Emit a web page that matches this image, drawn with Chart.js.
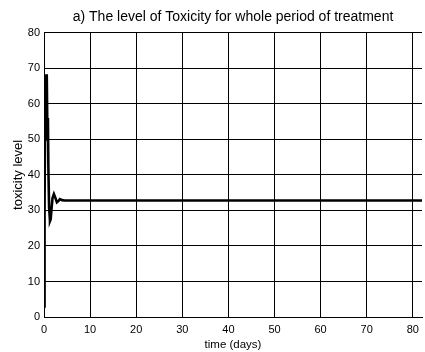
<!DOCTYPE html>
<html><head><meta charset="utf-8">
<script src="https://cdn.jsdelivr.net/npm/chart.js@4"></script>
<style>html,body{margin:0;padding:0;background:#fff}#w{width:425px;height:352px}</style>
</head><body><div id="w"><canvas id="c"></canvas></div>
<script>
const timeDays = [0, 0.12, 0.25, 0.35, 0.6, 0.75, 0.85, 0.95, 1.1, 1.3, 1.45, 1.6, 1.85, 2.15, 2.45, 2.8, 3.1, 3.45, 3.9, 4.5, 82];
const toxicity = [3, 30, 60, 68, 68, 50, 56, 42, 31, 27, 27.5, 30, 33.5, 34.6, 33.6, 32.3, 32.6, 33.2, 32.9, 32.8, 32.8];
const xTicks = [0, 10, 20, 30, 40, 50, 60, 70, 80];
const yTicks = [0, 10, 20, 30, 40, 50, 60, 70, 80];
const titleText = 'a) The level of Toxicity for whole period of treatment';
const xTitle = 'time (days)';
const yTitle = 'toxicity level';

const font = 'Liberation Sans, Arial, sans-serif';
new Chart(document.getElementById('c'), {
  type: 'line',
  data: { datasets: [{
    data: timeDays.map((t, i) => ({x: t, y: toxicity[i]})),
    borderColor: '#000', borderWidth: 2.6, pointRadius: 0, tension: 0, fill: false
  }]},
  options: {
    responsive: true, maintainAspectRatio: false, animation: false,
    layout: { padding: { left: 0, right: 0, top: 0, bottom: 0 } },
    plugins: {
      legend: { display: false }, tooltip: { enabled: false },
      title: { display: true, fullSize: false, text: titleText, color: '#000',
        font: { family: font, size: 14, weight: 'normal' },
        padding: { top: 9, bottom: 7 } }
    },
    scales: {
      x: { type: 'linear', min: 0, max: 82,
        afterBuildTicks: s => { s.ticks = xTicks.map(v => ({value: v})); },
        afterFit: s => { s.height = 35; },
        grid: { color: '#000', lineWidth: 1, drawTicks: false },
        border: { color: '#000', width: 1 },
        ticks: { color: '#000', padding: 6, maxRotation: 0, font: { family: font, size: 11 } },
        title: { display: true, text: xTitle, color: '#000', padding: { top: 4.5, bottom: 0 }, font: { family: font, size: 11.5 } }
      },
      y: { min: 0, max: 80,
        afterBuildTicks: s => { s.ticks = yTicks.map(v => ({value: v})); },
        afterFit: s => { s.width = 44; },
        grid: { color: '#000', lineWidth: 1, drawTicks: false },
        border: { color: '#000', width: 1 },
        ticks: { color: '#000', padding: 4, font: { family: font, size: 11 } },
        title: { display: true, text: yTitle, color: '#000', padding: { top: 10.2, bottom: 0 }, font: { family: font, size: 13 } }
      }
    }
  }
});
</script></body></html>
